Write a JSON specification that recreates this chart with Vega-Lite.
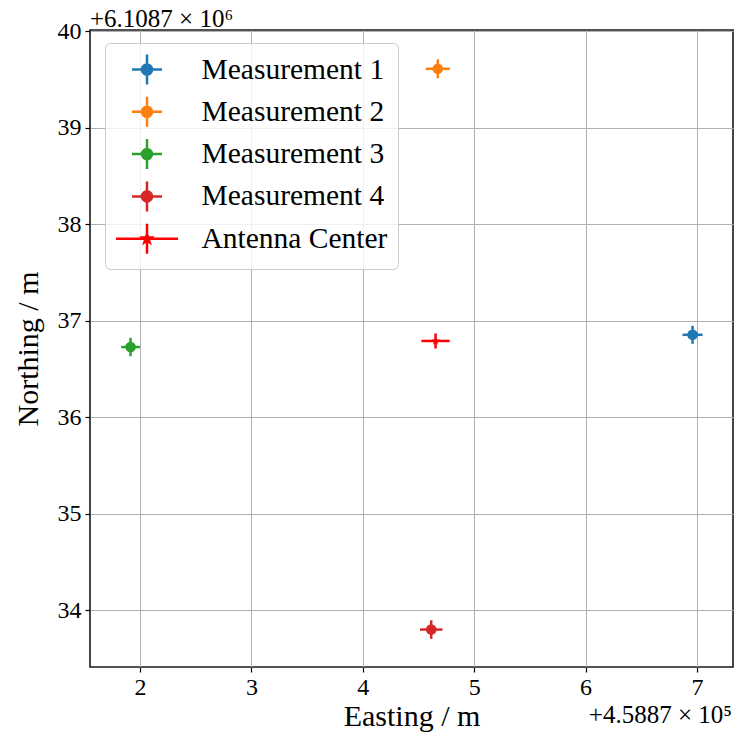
{
  "$schema": "https://vega.github.io/schema/vega-lite/v6.json",
  "width": 643,
  "height": 637,
  "autosize": {"type": "none"},
  "padding": {"left": 90, "top": 30, "right": 10, "bottom": 69},
  "background": "white",
  "config": {
    "font": "Liberation Serif",
    "view": {"stroke": "#1a1a1a", "strokeWidth": 1.6},
    "axis": {
      "labelFont": "Liberation Serif", "titleFont": "Liberation Serif",
      "labelFontSize": 24, "titleFontSize": 30, "titleFontWeight": "normal",
      "labelColor": "black", "titleColor": "black",
      "tickColor": "black", "tickSize": 5, "tickWidth": 1.2,
      "domain": false, "gridColor": "#b0b0b0", "gridWidth": 1, "gridOpacity": 1
    },
    "legend": {
      "orient": "none", "legendX": 15, "legendY": 13,
      "padding": 10, "fillColor": "rgba(255,255,255,0.8)", "strokeColor": "#cccccc",
      "cornerRadius": 5, "labelFont": "Liberation Serif", "labelFontSize": 29.5,
      "labelColor": "black", "labelOffset": 38, "symbolOffset": 15.5, "symbolSize": 900,
      "symbolStrokeWidth": 2.5, "rowPadding": 1.3, "symbolOpacity": 1, "labelLimit": 400
    }
  },
  "data": {"values": [
    {"series": "Measurement 1", "x": 6.96, "y": 36.854, "xlo": 6.87, "xhi": 7.05, "ylo": 36.761, "yhi": 36.947},
    {"series": "Measurement 2", "x": 4.673, "y": 39.61, "xlo": 4.565, "xhi": 4.781, "ylo": 39.512, "yhi": 39.708},
    {"series": "Measurement 3", "x": 1.915, "y": 36.727, "xlo": 1.831, "xhi": 1.999, "ylo": 36.632, "yhi": 36.822},
    {"series": "Measurement 4", "x": 4.614, "y": 33.80, "xlo": 4.513, "xhi": 4.715, "ylo": 33.704, "yhi": 33.896},
    {"series": "Antenna Center", "x": 4.653, "y": 36.79, "xlo": 4.526, "xhi": 4.78, "ylo": 36.712, "yhi": 36.868}
  ]},
  "layer": [
    {
      "mark": {"type": "rule", "strokeWidth": 2.5},
      "encoding": {
        "x": {"field": "xlo", "type": "quantitative", "title": "Easting / m",
          "scale": {"domain": [1.551, 7.323], "nice": false, "zero": false},
          "axis": {"values": [2, 3, 4, 5, 6, 7], "format": "d", "labelPadding": 3, "titlePadding": 2, "grid": true}},
        "x2": {"field": "xhi"},
        "y": {"field": "y", "type": "quantitative", "title": "Northing / m",
          "scale": {"domain": [33.412, 40.012], "nice": false, "zero": false},
          "axis": {"values": [34, 35, 36, 37, 38, 39, 40], "format": "d", "labelPadding": 4, "titlePadding": 14, "grid": true}},
        "color": {"field": "series", "type": "nominal", "legend": null,
          "scale": {"domain": ["Antenna Center", "Measurement 1", "Measurement 2", "Measurement 3", "Measurement 4"],
                    "range": ["#ff0000", "#1f77b4", "#ff7f0e", "#2ca02c", "#d62728"]}}
      }
    },
    {
      "mark": {"type": "rule", "strokeWidth": 2.5},
      "encoding": {
        "x": {"field": "x", "type": "quantitative", "title": "Easting / m"},
        "y": {"field": "ylo", "type": "quantitative", "title": "Northing / m"},
        "y2": {"field": "yhi"},
        "color": {"field": "series", "type": "nominal", "legend": null}
      }
    },
    {
      "transform": [{"filter": "datum.series !== 'Antenna Center'"}],
      "mark": {"type": "circle", "size": 113, "opacity": 1},
      "encoding": {
        "x": {"field": "x", "type": "quantitative", "title": "Easting / m"},
        "y": {"field": "y", "type": "quantitative", "title": "Northing / m"},
        "color": {"field": "series", "type": "nominal", "legend": null}
      }
    },
    {
      "transform": [{"filter": "datum.series === 'Antenna Center'"}],
      "mark": {"type": "point", "filled": true, "size": 113, "opacity": 1,
        "shape": "M0,-0.85L0.1998,-0.2751L0.8084,-0.2627L0.3234,0.1051L0.4996,0.6877L0,0.34L-0.4996,0.6877L-0.3234,0.1051L-0.8084,-0.2627L-0.1998,-0.2751Z"},
      "encoding": {
        "x": {"field": "x", "type": "quantitative", "title": "Easting / m"},
        "y": {"field": "y", "type": "quantitative", "title": "Northing / m"},
        "color": {"field": "series", "type": "nominal", "legend": null}
      }
    },
    {
      "transform": [{"filter": "datum.series === 'none'"}],
      "mark": {"type": "point", "filled": true},
      "encoding": {
        "x": {"field": "x", "type": "quantitative", "title": "Easting / m"},
        "y": {"field": "y", "type": "quantitative", "title": "Northing / m"},
        "fill": {"field": "series", "type": "nominal",
          "scale": {"domain": ["Measurement 1", "Measurement 2", "Measurement 3", "Measurement 4", "Antenna Center"],
                    "range": ["#1f77b4", "#ff7f0e", "#2ca02c", "#d62728", "#ff0000"]},
          "legend": {"title": null, "orient": "none", "legendX": 15, "legendY": 13}},
        "stroke": {"field": "series", "type": "nominal",
          "scale": {"domain": ["Measurement 1", "Measurement 2", "Measurement 3", "Measurement 4", "Antenna Center"],
                    "range": ["#1f77b4", "#ff7f0e", "#2ca02c", "#d62728", "#ff0000"]},
          "legend": {"title": null, "orient": "none", "legendX": 15, "legendY": 13}},
        "shape": {"field": "series", "type": "nominal",
          "scale": {"domain": ["Measurement 1", "Measurement 2", "Measurement 3", "Measurement 4", "Antenna Center"],
                    "range": [
                      "M-1,0H1M0,-1V1M-0.337,0A0.337,0.337,0,1,0,0.337,0A0.337,0.337,0,1,0,-0.337,0Z",
                      "M-1,0H1M0,-1V1M-0.337,0A0.337,0.337,0,1,0,0.337,0A0.337,0.337,0,1,0,-0.337,0Z",
                      "M-1,0H1M0,-1V1M-0.337,0A0.337,0.337,0,1,0,0.337,0A0.337,0.337,0,1,0,-0.337,0Z",
                      "M-1,0H1M0,-1V1M-0.337,0A0.337,0.337,0,1,0,0.337,0A0.337,0.337,0,1,0,-0.337,0Z",
                      "M-2.067,0H2.067M0,-1V1M0,-0.3L0.0706,-0.097L0.2854,-0.0928L0.1142,0.037L0.1764,0.2428L0,0.12L-0.1764,0.2428L-0.1142,0.037L-0.2854,-0.0928L-0.0706,-0.097Z"
                    ]},
          "legend": {"title": null, "orient": "none", "legendX": 15, "legendY": 13}}
      }
    },
    {
      "data": {"values": [{"t": "+6.1087 × 10⁶"}]},
      "mark": {"type": "text", "align": "left", "baseline": "alphabetic", "dy": -3, "fontSize": 25, "font": "Liberation Serif", "color": "black"},
      "encoding": {"x": {"datum": 1.551}, "y": {"datum": 40.012}, "text": {"field": "t"}}
    },
    {
      "data": {"values": [{"t": "+4.5887 × 10⁵"}]},
      "mark": {"type": "text", "align": "right", "baseline": "alphabetic", "dy": 55.5, "dx": -1, "fontSize": 25, "font": "Liberation Serif", "color": "black"},
      "encoding": {"x": {"datum": 7.323}, "y": {"datum": 33.412}, "text": {"field": "t"}}
    }
  ]
}
